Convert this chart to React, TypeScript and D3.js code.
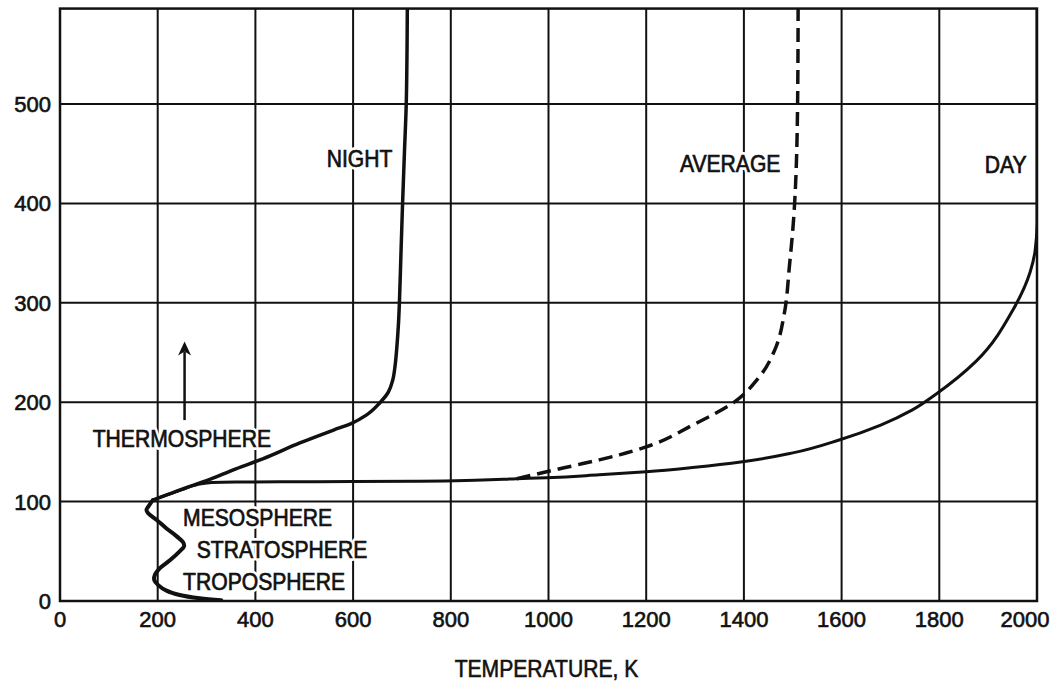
import React from 'react';
import * as d3 from 'd3';

// Axis ticks
const xTickValues = [0, 200, 400, 600, 800, 1000, 1200, 1400, 1600, 1800, 2000];
const yTickValues = [0, 100, 200, 300, 400, 500];
const xTickLabels = ['0', '200', '400', '600', '800', '1000', '1200', '1400', '1600', '1800', '2000'];
const yTickLabels = ['0', '100', '200', '300', '400', '500'];

// Temperature (K), altitude (km)
const lowerAtmosphere: [number, number][] = [
  [330, 0.8], [286, 2.7], [245, 6], [218, 10.4], [201, 16], [193, 21], [194, 26],
  [204.5, 33], [225, 41], [245, 50], [254, 55], [252, 59], [239, 65], [218, 73],
  [198, 81.5], [181, 88], [177, 91.5], [183, 96.6], [190, 101.5],
];

const nightBranch: [number, number][] = [
  [190, 101.5], [220, 107], [250, 112.5], [300, 121], [360, 133], [415, 143],
  [491, 159], [560, 172], [596, 178.5], [627, 187], [654, 199], [672, 210],
  [681, 222], [686, 237], [689, 252], [693, 280], [695, 303], [698, 350],
  [701, 396], [705, 450], [709, 504], [711, 596],
];

const dayBranch: [number, number][] = [
  [190, 101.5], [220, 107], [250, 112], [280, 117], [310, 119.3], [360, 119.7],
  [450, 119.9], [600, 120.1], [736, 120.5], [850, 121.5], [935, 123], [996, 124],
  [1104, 127], [1200, 130], [1300, 134.5], [1397, 140], [1500, 149], [1595, 162],
  [1680, 177], [1744, 192], [1793, 208], [1875, 241], [1951, 293], [1986, 331],
  [1996, 352], [2000, 380], [2000, 596],
];

const averageBranch: [number, number][] = [
  [935, 123], [996, 130], [1050, 136], [1104, 142], [1145, 147], [1200, 155],
  [1295, 177], [1377, 199], [1431, 225], [1466, 256], [1483, 290], [1493, 336],
  [1503, 393], [1510, 504], [1511, 596],
];

const curveLabels = [
  { text: 'NIGHT', t: 546, alt: 437 },
  { text: 'AVERAGE', t: 1269, alt: 432 },
  { text: 'DAY', t: 1893, alt: 431 },
];

const layerLabels = [
  { text: 'THERMOSPHERE', t: 67, alt: 155 },
  { text: 'MESOSPHERE', t: 252, alt: 75 },
  { text: 'STRATOSPHERE', t: 280, alt: 43 },
  { text: 'TROPOSPHERE', t: 252, alt: 11 },
];

const arrowSpan = { t: 255, from: 182, to: 261 };
const xAxisTitle = 'TEMPERATURE, K';

const FONT = 'Liberation Sans, Arial, Helvetica, sans-serif';

export default function App() {
  const W = 1057;
  const H = 687;
  const x = d3.scaleLinear().domain([0, 2000]).range([60, 1037]);
  const y = d3.scaleLinear().domain([0, 500]).range([601, 104]);
  const yTop = 596;

  const lineCR = d3
    .line<[number, number]>()
    .x((d) => x(d[0]))
    .y((d) => y(d[1]))
    .curve(d3.curveCatmullRom.alpha(0.5));
  const lineMono = d3
    .line<[number, number]>()
    .x((d) => x(d[0]))
    .y((d) => y(d[1]))
    .curve(d3.curveMonotoneY);

  const x0 = x(0), x1 = x(2000), yb = y(0), yt = y(yTop);

  const label = (txt: string, px: number, py: number, key: string) => (
    <g key={key} transform={`translate(${px},${py}) scale(0.88,1)`} fontFamily={FONT} fontSize={24}>
      <text fill="#fff" stroke="#fff" strokeWidth={6} strokeLinejoin="round">{txt}</text>
      <text fill="#111" stroke="#111" strokeWidth={0.7}>{txt}</text>
    </g>
  );

  const ax = x(arrowSpan.t);
  const aTip = y(arrowSpan.to);
  const aBot = y(arrowSpan.from);

  return (
    <svg width={W} height={H} style={{ position: 'absolute', left: 0, top: 0, background: '#fff' }}>
      <defs>
        <clipPath id="plot">
          <rect x={x0} y={yt} width={x1 - x0} height={yb - yt} />
        </clipPath>
      </defs>
      <rect width={W} height={H} fill="#fff" />
      {/* grid */}
      {xTickValues.slice(1, -1).map((v) => (
        <line key={'gx' + v} x1={x(v)} x2={x(v)} y1={yb} y2={yt} stroke="#111" strokeWidth={2} />
      ))}
      {yTickValues.slice(1).map((v) => (
        <line key={'gy' + v} x1={x0} x2={x1} y1={y(v)} y2={y(v)} stroke="#111" strokeWidth={2} />
      ))}
      {/* labels inside plot */}
      {curveLabels.map((l) => label(l.text, x(l.t), y(l.alt), 'c' + l.text))}
      {layerLabels.map((l) => label(l.text, x(l.t), y(l.alt), 'l' + l.text))}
      {/* arrow */}
      <line x1={ax} x2={ax} y1={aBot} y2={aTip + 10} stroke="#111" strokeWidth={2.5} />
      <path
        d={`M${ax},${aTip} L${ax - 6.5},${aTip + 14} L${ax},${aTip + 10} L${ax + 6.5},${aTip + 14} Z`}
        fill="#111"
      />
      {/* curves */}
      <g clipPath="url(#plot)" fill="none" stroke="#111" strokeLinejoin="round" strokeLinecap="round">
        <path d={lineCR(lowerAtmosphere) || ''} strokeWidth={4} />
        <path d={lineMono(nightBranch) || ''} strokeWidth={3.5} />
        <path d={lineMono(dayBranch) || ''} strokeWidth={3} />
        <path d={lineMono(averageBranch) || ''} strokeWidth={3.5} strokeDasharray="14 7" strokeLinecap="butt" />
      </g>
      {/* border */}
      <rect x={x0} y={yt} width={x1 - x0} height={yb - yt} fill="none" stroke="#111" strokeWidth={2.5} />
      {/* y tick labels */}
      {yTickValues.map((v, i) => (
        <text
          key={'yl' + v}
          x={51}
          y={y(v) + 8}
          textAnchor="end"
          fontFamily={FONT}
          fontSize={22}
          fill="#111"
          stroke="#111"
          strokeWidth={0.6}
        >
          {yTickLabels[i]}
        </text>
      ))}
      {/* x tick labels */}
      {xTickValues.map((v, i) => (
        <text
          key={'xl' + v}
          x={x(v) + (i === xTickValues.length - 1 ? -12 : 0)}
          y={yb + 26}
          textAnchor="middle"
          fontFamily={FONT}
          fontSize={22}
          fill="#111"
          stroke="#111"
          strokeWidth={0.6}
        >
          {xTickLabels[i]}
        </text>
      ))}
      {/* axis title */}
      <text
        transform={`translate(${(x0 + x1) / 2 - 2},${yb + 76}) scale(0.88,1)`}
        textAnchor="middle"
        fontFamily={FONT}
        fontSize={24}
        fill="#111"
        stroke="#111"
        strokeWidth={0.6}
      >
        {xAxisTitle}
      </text>
    </svg>
  );
}
